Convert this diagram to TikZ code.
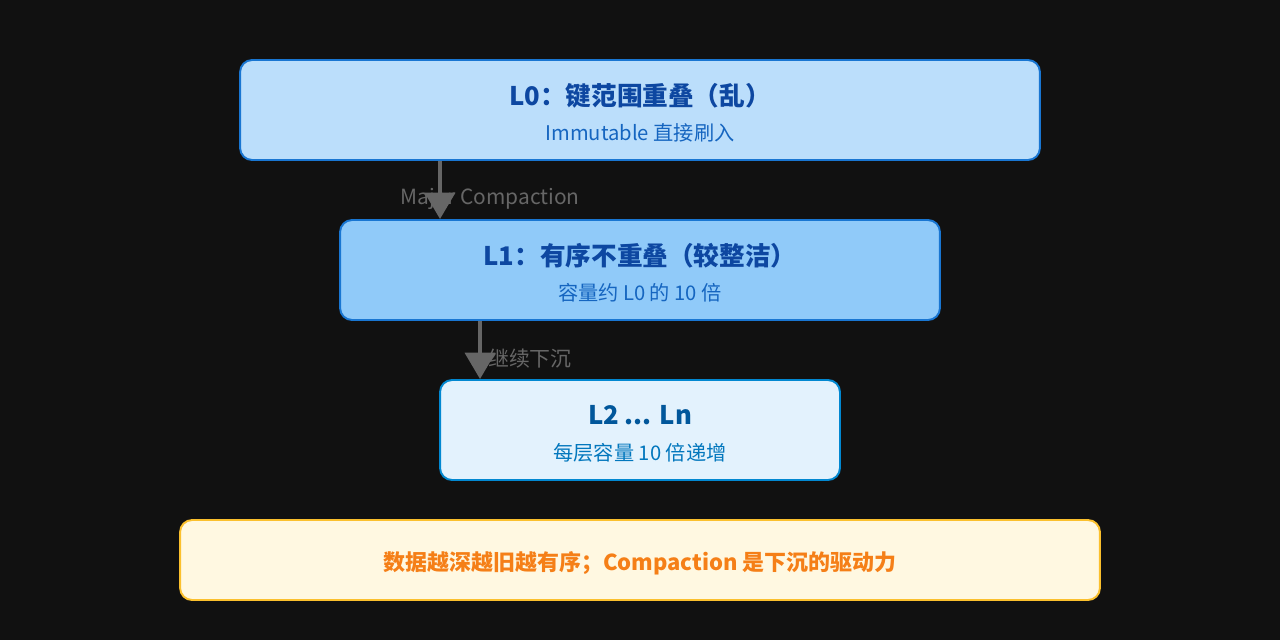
\documentclass[tikz,border=0pt]{standalone}
\usepackage{fontspec}
\setmainfont{Noto Sans CJK SC}
\usetikzlibrary{arrows.meta,positioning,calc}

\definecolor{bgdark}{HTML}{111111}
\definecolor{lzfill}{HTML}{BBDEFB}
\definecolor{lofill}{HTML}{90CAF9}
\definecolor{lnfill}{HTML}{E3F2FD}
\definecolor{bluedraw}{HTML}{1976D2}
\definecolor{lndraw}{HTML}{0288D1}
\definecolor{navy}{HTML}{0D47A1}
\definecolor{midblue}{HTML}{1565C0}
\definecolor{lntitle}{HTML}{01579B}
\definecolor{lnsub}{HTML}{0277BD}
\definecolor{notefill}{HTML}{FFF8E1}
\definecolor{notedraw}{HTML}{FBC02D}
\definecolor{notetext}{HTML}{F57F17}
\definecolor{arrowgray}{HTML}{666666}

\begin{document}
\begin{tikzpicture}[
        x=0.02cm, y=-0.02cm,
        level/.style={draw, rectangle, rounded corners=0.24cm, line width=1.1pt, minimum height=2cm},
        ttl/.style={font=\fontsize{14.6}{17}\selectfont\bfseries},
        sub/.style={font=\fontsize{11.5}{14}\selectfont},
        flow/.style={draw=arrowgray, line width=2.3pt, -{Triangle[width=17pt,length=15pt]}},
        flowlabel/.style={text=arrowgray, font=\fontsize{11.9}{14}\selectfont, xshift=1cm, yshift=-0.17cm} % sits right of the arrow
    ]
    \fill[bgdark] (0,0) rectangle (1280,640);
    \useasboundingbox (0,0) rectangle (1280,640);

    % the three levels
    \node[level, fill=lzfill, draw=bluedraw, minimum width=16cm] (l0) at (640,110) {};
    \node[level, fill=lofill, draw=bluedraw, minimum width=12cm] (l1) at (640,270) {};
    \node[level, fill=lnfill, draw=lndraw, minimum width=8cm] (l2) at (640,430) {};

    \node[ttl, text=navy] at ([yshift=0.29cm]l0.center) {L0：键范围重叠（乱）};
    \node[sub, text=midblue] at ([yshift=-0.46cm]l0.center) {Immutable 直接刷入};
    \node[ttl, text=navy] at ([yshift=0.29cm]l1.center) {L1：有序不重叠（较整洁）};
    \node[sub, text=midblue] at ([yshift=-0.46cm]l1.center) {容量约 L0 的 10 倍};
    \node[ttl, text=lntitle] at ([yshift=0.29cm]l2.center) {L2 ... Ln};
    \node[sub, text=lnsub] at ([yshift=-0.46cm]l2.center) {每层容量 10 倍递增};

    % summary
    \node[draw=notedraw, fill=notefill, rounded corners=0.24cm, line width=1.1pt,
          minimum width=18.4cm, minimum height=1.6cm, text=notetext,
          font=\fontsize{12.5}{15}\selectfont\bfseries] (note) at (640,560) {};
    \node[text=notetext, font=\fontsize{12.5}{15}\selectfont\bfseries]
          at ([yshift=-0.07cm]note.center) {数据越深越旧越有序；Compaction 是下沉的驱动力};

    % connectors (labels first, arrows on top)
    \coordinate (a0) at (l0.south -| 440,0);
    \coordinate (a1) at (l1.north -| 440,0);
    \coordinate (b0) at (l1.south -| 480,0);
    \coordinate (b1) at (l2.north -| 480,0);
    \node[flowlabel] at ($(a0)!0.5!(a1)$) {Major Compaction};
    \node[flowlabel] at ($(b0)!0.5!(b1)$) {继续下沉};
    \draw[flow] (a0) -- (a1);
    \draw[flow] (b0) -- (b1);
\end{tikzpicture}
\end{document}
